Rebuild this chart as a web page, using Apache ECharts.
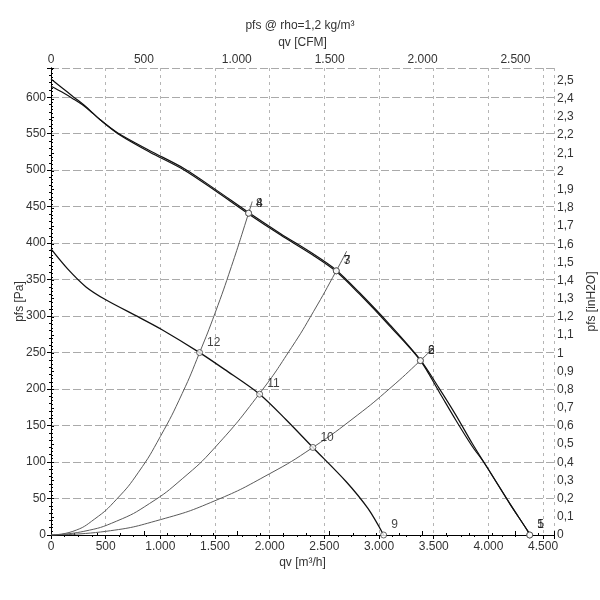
<!DOCTYPE html>
<html>
<head>
<meta charset="utf-8">
<script src="https://cdn.jsdelivr.net/npm/echarts@6/dist/echarts.min.js"></script>
<style>html,body{margin:0;padding:0;background:#fff}#c{width:600px;height:600px}</style>
</head>
<body>
<div id="c"></div>
<script>
// ---- data (qv in m³/h, pfs in Pa) ----
const fanA_q = [0, 100, 200, 320, 450, 611, 900, 1220, 1500, 1807, 2100, 2400, 2609, 2822, 3100, 3378, 3550, 3700, 3850, 3966, 4200, 4362, 4378];
const fanA_p = [625, 613, 601, 587, 569, 551, 527, 502, 474, 442, 413, 385, 363, 332, 288, 240, 201, 165, 126, 98, 42, 5, 0];
const fanB_q = [0, 100, 200, 320, 450, 611, 900, 1220, 1500, 1807, 2100, 2400, 2609, 2822, 3100, 3378, 3550, 3700, 3850, 3966, 4200, 4362, 4378];
const fanB_p = [615, 607, 598, 586, 569, 550, 525, 500, 472, 440, 411, 383, 361, 330, 286, 239, 196, 158, 122, 98, 42, 5, 0];
const low_q = [0, 150, 320, 505, 810, 1008, 1359, 1587, 1908, 2150, 2395, 2700, 2900, 3042];
const low_p = [392, 365, 340, 322, 298, 282, 250, 227, 193, 158, 120, 73, 36, 0];

const sys1_q = [0, 200, 400, 600, 800, 1000, 1200, 1359, 1500, 1650, 1807, 1840];
const sys1_p = [0, 5, 22, 49, 86, 135, 194, 250, 304, 368, 441, 457];
const sys2_q = [0, 300, 600, 900, 1200, 1500, 1908, 2200, 2400, 2609, 2704];
const sys2_p = [0, 5, 19, 43, 77, 120, 194, 257, 306, 362, 389];
const sys3_q = [0, 500, 1000, 1500, 2000, 2395, 2800, 3100, 3378, 3493];
const sys3_p = [0, 5, 21, 47, 84, 120, 164, 201, 239, 256];

const ptsA_q = [4378, 3378, 2609, 1807];
const ptsA_p = [0, 239, 362, 441];
const ptsA_lbl = ['1', '2', '3', '4'];
const ptsB_q = [4378, 3378, 2609, 1807];
const ptsB_p = [0, 239, 362, 441];
const ptsB_lbl = ['5', '6', '7', '8'];
const ptsC_q = [3042, 2395, 1908, 1359];
const ptsC_p = [0, 120, 193, 250];
const ptsC_lbl = ['9', '10', '11', '12'];

// axis ranges / ticks
const qMax = 4600;           // m³/h
const cfmMax = 4600 / 1.699; // CFM
const paMax = 640;           // Pa
const inMax = 640 / 249.089; // inH2O

const zip = (a, b) => a.map((v, i) => [v, b[i]]);
const thousands = v => {
  const r = Math.round(v);
  if (Math.abs(v - r) > 1e-6 || r % 500 !== 0) return '';
  if (r >= 1000) return Math.floor(r / 1000) + '.' + String(r % 1000).padStart(3, '0');
  return String(r);
};
const paFmt = v => (Math.round(v) % 50 === 0 && Math.abs(v - Math.round(v)) < 1e-6) ? String(Math.round(v)) : '';
const inFmt = v => {
  const t = Math.round(v * 10);
  if (Math.abs(v * 10 - t) > 1e-4 || t > 25) return '';
  return t % 10 === 0 ? String(t / 10) : (t / 10).toFixed(1).replace('.', ',');
};

const txt = '#333';
const font = 'Liberation Sans, Arial, sans-serif';
const axLine = { show: true, lineStyle: { color: '#000', width: 1 } };

const chart = echarts.init(document.getElementById('c'), null, { renderer: 'canvas' });

function lineSeries(q, p, color, width, smooth) {
  return {
    type: 'line', xAxisIndex: 0, yAxisIndex: 0, data: zip(q, p),
    showSymbol: false, symbol: 'none', smooth: smooth, silent: true,
    lineStyle: { color: color, width: width }, z: 3, animation: false
  };
}
function ptSeries(q, p, lbl) {
  return {
    type: 'scatter', xAxisIndex: 0, yAxisIndex: 0,
    data: q.map((v, i) => ({ value: [v, p[i]], name: lbl[i] })),
    symbol: 'circle', symbolSize: 6,
    itemStyle: { color: '#fff', borderColor: '#444', borderWidth: 1 },
    label: { show: true, position: 'right', distance: 4, offset: [0, -10], formatter: '{b}', color: '#111', textBorderWidth: 0, fontSize: 12, fontFamily: font },
    z: 5, animation: false
  };
}

chart.setOption({
  animation: false,
  backgroundColor: '#fff',
  title: {
    text: 'pfs @ rho=1,2 kg/m³', left: 'center', top: 15,
    textStyle: { fontSize: 12, fontWeight: 'normal', color: txt, fontFamily: font }
  },
  grid: { left: 51, top: 68, width: 503, height: 467, containLabel: false, outerBoundsMode: 'none' },
  xAxis: [
    {
      type: 'value', position: 'bottom', min: 0, max: qMax, interval: 500,
      name: 'qv [m³/h]', nameLocation: 'middle', nameGap: 22, nameMoveOverlap: false,
      nameTextStyle: { color: txt, fontSize: 12, fontFamily: font },
      axisLine: axLine,
      axisTick: { show: true, inside: false, length: 4, lineStyle: { color: '#000' } },
      minorTick: { show: true, splitNumber: 4, length: 2, lineStyle: { color: '#000' } },
      axisLabel: { formatter: thousands, color: txt, fontSize: 12, fontFamily: font, margin: 6, showMaxLabel: false },
      splitLine: { show: true, lineStyle: { color: '#b5b5b5', type: [3, 4], width: 1 } },
      minorSplitLine: { show: false }
    },
    {
      type: 'value', position: 'top', min: 0, max: cfmMax, interval: 500,
      name: 'qv [CFM]', nameLocation: 'middle', nameGap: 19, nameMoveOverlap: false,
      nameTextStyle: { color: txt, fontSize: 12, fontFamily: font },
      axisLine: axLine,
      axisTick: { show: true, inside: false, length: 4, lineStyle: { color: '#000' } },
      minorTick: { show: true, splitNumber: 4, length: 2, lineStyle: { color: '#000' } },
      axisLabel: { formatter: thousands, color: txt, fontSize: 12, fontFamily: font, margin: 2, showMaxLabel: false },
      splitLine: { show: false }
    }
  ],
  yAxis: [
    {
      type: 'value', position: 'left', min: 0, max: paMax, interval: 50,
      name: 'pfs [Pa]', nameLocation: 'middle', nameGap: 25, nameRotate: 90, nameMoveOverlap: false,
      nameTextStyle: { color: txt, fontSize: 12, fontFamily: font },
      axisLine: axLine,
      axisTick: { show: true, inside: false, length: 4, lineStyle: { color: '#000' } },
      minorTick: { show: true, splitNumber: 5, length: 2, lineStyle: { color: '#000' } },
      axisLabel: { formatter: paFmt, color: txt, fontSize: 12, fontFamily: font, margin: 5, showMaxLabel: false },
      splitLine: { show: true, lineStyle: { color: '#aaaaaa', type: [8, 3], width: 1 } }
    },
    {
      type: 'value', position: 'right', min: 0, max: inMax, interval: 0.1,
      name: 'pfs [inH2O]', nameLocation: 'middle', nameGap: 32, nameRotate: 90,
      nameTextStyle: { color: txt, fontSize: 12, fontFamily: font },
      axisLine: axLine,
      axisTick: { show: true, inside: false, length: 3, lineStyle: { color: '#000' } },
      minorTick: { show: true, splitNumber: 5, length: 2, lineStyle: { color: '#000' } },
      axisLabel: { formatter: inFmt, color: txt, fontSize: 12, fontFamily: font, margin: 3, showMaxLabel: false },
      splitLine: { show: false }
    }
  ],
  series: [
    lineSeries(sys1_q, sys1_p, '#5a5a5a', 1, true),
    lineSeries(sys2_q, sys2_p, '#5a5a5a', 1, true),
    lineSeries(sys3_q, sys3_p, '#5a5a5a', 1, true),
    lineSeries(low_q, low_p, '#111', 1.3, 0.3),
    lineSeries(fanA_q, fanA_p, '#111', 1.2, 0.3),
    lineSeries(fanB_q, fanB_p, '#111', 1.2, 0.3),
    ptSeries(ptsA_q, ptsA_p, ptsA_lbl),
    ptSeries(ptsB_q, ptsB_p, ptsB_lbl),
    ptSeries(ptsC_q, ptsC_p, ptsC_lbl)
  ]
});
</script>
</body>
</html>
